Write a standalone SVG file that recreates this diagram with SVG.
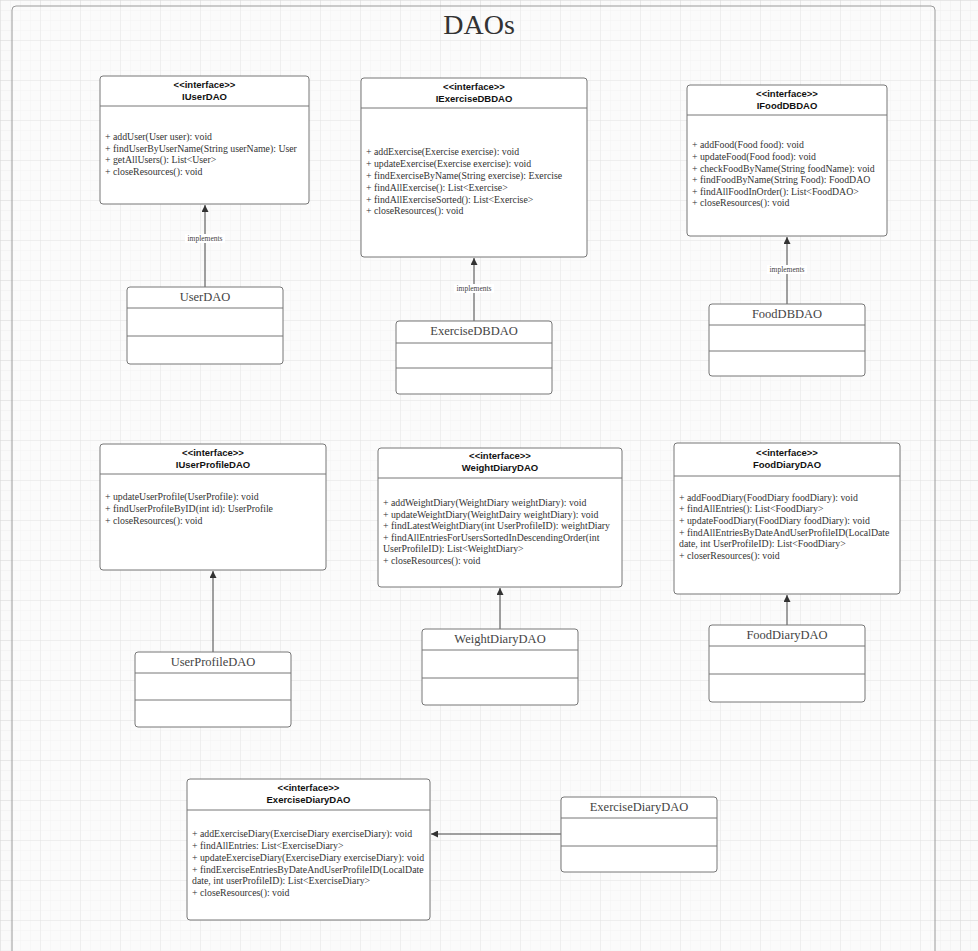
<svg xmlns="http://www.w3.org/2000/svg" width="978" height="951" viewBox="0 0 978 951">
<defs>
<pattern id="gridS" width="10" height="10" patternUnits="userSpaceOnUse">
<path d="M10 0H0V10" fill="none" stroke="#e8e8e8" stroke-width="0.6"/>
</pattern>
<pattern id="gridL" width="40" height="40" patternUnits="userSpaceOnUse">
<rect width="40" height="40" fill="url(#gridS)"/>
<path d="M40 0H0V40" fill="none" stroke="#d6d6d6" stroke-width="0.8"/>
</pattern>
<marker id="arr" viewBox="0 0 10 10" refX="10" refY="5" markerWidth="7" markerHeight="7" orient="auto" markerUnits="userSpaceOnUse">
<path d="M0 0L10 5L0 10Z" fill="#333"/>
</marker>
</defs>
<style>
.box{fill:#fff;stroke:#777;stroke-width:1}
.div{stroke:#777;stroke-width:1}
.st{font-family:"Liberation Sans",Arial,sans-serif;font-weight:bold;font-size:9.5px;fill:#111;text-anchor:middle}
.m{font-family:"Liberation Serif","Times New Roman",serif;font-size:9.8px;fill:#333}
.cn{font-family:"Liberation Serif","Times New Roman",serif;font-size:12.5px;fill:#444;text-anchor:middle}
.lbl{font-family:"Liberation Serif","Times New Roman",serif;font-size:7.5px;fill:#444;text-anchor:middle}
.lblbg{fill:#fff}
.c{stroke:#444;stroke-width:1;fill:none;marker-end:url(#arr)}
</style>
<rect width="978" height="951" fill="#fafafa"/>
<rect width="978" height="951" fill="url(#gridL)"/>
<rect x="12" y="6" width="923" height="960" rx="4" fill="#fff" fill-opacity="0.3" stroke="#9a9a9a" stroke-width="1"/>
<text x="479" y="34" font-family="Liberation Serif,'Times New Roman',serif" font-size="28" fill="#333" text-anchor="middle">DAOs</text>

<g id="connectors">
<line class="c" x1="205" y1="287" x2="205" y2="205"/>
<rect class="lblbg" x="185" y="234" width="40" height="9"/>
<text class="lbl" x="205" y="241">implements</text>
<line class="c" x1="474" y1="321" x2="474" y2="258"/>
<rect class="lblbg" x="454" y="284" width="40" height="9"/>
<text class="lbl" x="474" y="291">implements</text>
<line class="c" x1="787" y1="304" x2="787" y2="237"/>
<rect class="lblbg" x="767" y="265" width="40" height="9"/>
<text class="lbl" x="787" y="272">implements</text>
<line class="c" x1="213" y1="652" x2="213" y2="571"/>
<line class="c" x1="500" y1="629" x2="500" y2="588"/>
<line class="c" x1="787" y1="625" x2="787" y2="595"/>
<line class="c" x1="561" y1="834" x2="431" y2="834"/>
</g>

<g id="IUserDAO">
<rect class="box" x="100" y="76" width="209" height="128" rx="3"/>
<line class="div" x1="100" y1="106" x2="309" y2="106"/>
<text class="st" x="204.5" y="88">&lt;&lt;interface&gt;&gt;</text>
<text class="st" x="204.5" y="100">IUserDAO</text>
<text class="m" x="105" y="140">+ addUser(User user): void</text>
<text class="m" x="105" y="151.5">+ findUserByUserName(String userName): User</text>
<text class="m" x="105" y="163">+ getAllUsers(): List&lt;User&gt;</text>
<text class="m" x="105" y="174.5">+ closeResources(): void</text>
</g>

<g id="IExerciseDBDAO">
<rect class="box" x="361" y="78" width="226" height="179" rx="3"/>
<line class="div" x1="361" y1="108" x2="587" y2="108"/>
<text class="st" x="474" y="90">&lt;&lt;interface&gt;&gt;</text>
<text class="st" x="474" y="102">IExerciseDBDAO</text>
<text class="m" x="366" y="155">+ addExercise(Exercise exercise): void</text>
<text class="m" x="366" y="167">+ updateExercise(Exercise exercise): void</text>
<text class="m" x="366" y="179">+ findExerciseByName(String exercise): Exercise</text>
<text class="m" x="366" y="191">+ findAllExercise(): List&lt;Exercise&gt;</text>
<text class="m" x="366" y="203">+ findAllExerciseSorted(): List&lt;Exercise&gt;</text>
<text class="m" x="366" y="214">+ closeResources(): void</text>
</g>

<g id="IFoodDBDAO">
<rect class="box" x="687" y="85" width="200" height="151" rx="3"/>
<line class="div" x1="687" y1="115" x2="887" y2="115"/>
<text class="st" x="787" y="97">&lt;&lt;interface&gt;&gt;</text>
<text class="st" x="787" y="109">IFoodDBDAO</text>
<text class="m" x="692" y="148">+ addFood(Food food): void</text>
<text class="m" x="692" y="160">+ updateFood(Food food):  void</text>
<text class="m" x="692" y="172">+ checkFoodByName(String foodName): void</text>
<text class="m" x="692" y="183">+ findFoodByName(String Food): FoodDAO</text>
<text class="m" x="692" y="195">+ findAllFoodInOrder(): List&lt;FoodDAO&gt;</text>
<text class="m" x="692" y="206">+ closeResources(): void</text>
</g>

<g id="UserDAO">
<rect class="box" x="127" y="287" width="156" height="77" rx="3"/>
<line class="div" x1="127" y1="308" x2="283" y2="308"/>
<line class="div" x1="127" y1="336" x2="283" y2="336"/>
<text class="cn" x="205" y="301">UserDAO</text>
</g>

<g id="ExerciseDBDAO">
<rect class="box" x="396" y="321" width="156" height="73" rx="3"/>
<line class="div" x1="396" y1="343" x2="552" y2="343"/>
<line class="div" x1="396" y1="368" x2="552" y2="368"/>
<text class="cn" x="474" y="335">ExerciseDBDAO</text>
</g>

<g id="FoodDBDAO">
<rect class="box" x="709" y="304" width="156" height="72" rx="3"/>
<line class="div" x1="709" y1="325" x2="865" y2="325"/>
<line class="div" x1="709" y1="351" x2="865" y2="351"/>
<text class="cn" x="787" y="318">FoodDBDAO</text>
</g>

<g id="IUserProfileDAO">
<rect class="box" x="100" y="444" width="226" height="126" rx="3"/>
<line class="div" x1="100" y1="474" x2="326" y2="474"/>
<text class="st" x="213" y="456">&lt;&lt;interface&gt;&gt;</text>
<text class="st" x="213" y="468">IUserProfileDAO</text>
<text class="m" x="105" y="500">+ updateUserProfile(UserProfile): void</text>
<text class="m" x="105" y="512">+ findUserProfileByID(int id): UserProfile</text>
<text class="m" x="105" y="524">+ closeResources(): void</text>
</g>

<g id="IWeightDiaryDAO">
<rect class="box" x="378" y="448" width="244" height="139" rx="3"/>
<line class="div" x1="378" y1="478" x2="622" y2="478"/>
<text class="st" x="500" y="459">&lt;&lt;interface&gt;&gt;</text>
<text class="st" x="500" y="471">WeightDiaryDAO</text>
<text class="m" x="383" y="506">+  addWeightDiary(WeightDiary weightDiary): void</text>
<text class="m" x="383" y="518">+ updateWeightDiary(WeightDairy weightDiary): void</text>
<text class="m" x="383" y="529">+ findLatestWeightDiary(int UserProfileID): weightDiary</text>
<text class="m" x="383" y="541">+ findAllEntriesForUsersSortedInDescendingOrder(int</text>
<text class="m" x="383" y="552">UserProfileID):  List&lt;WeightDiary&gt;</text>
<text class="m" x="383" y="564">+ closeResources(): void</text>
</g>

<g id="IFoodDiaryDAO">
<rect class="box" x="674" y="443" width="226" height="151" rx="3"/>
<line class="div" x1="674" y1="476" x2="900" y2="476"/>
<text class="st" x="787" y="456">&lt;&lt;interface&gt;&gt;</text>
<text class="st" x="787" y="468">FoodDiaryDAO</text>
<text class="m" x="679" y="501">+  addFoodDiary(FoodDiary foodDiary): void</text>
<text class="m" x="679" y="512">+ findAllEntries(): List&lt;FoodDiary&gt;</text>
<text class="m" x="679" y="524">+ updateFoodDiary(FoodDiary foodDiary): void</text>
<text class="m" x="679" y="536">+ findAllEntriesByDateAndUserProfileID(LocalDate</text>
<text class="m" x="679" y="547">date, int UserProfileID): List&lt;FoodDiary&gt;</text>
<text class="m" x="679" y="559">+ closerResources(): void</text>
</g>

<g id="UserProfileDAO">
<rect class="box" x="135" y="652" width="156" height="75" rx="3"/>
<line class="div" x1="135" y1="673" x2="291" y2="673"/>
<line class="div" x1="135" y1="700" x2="291" y2="700"/>
<text class="cn" x="213" y="666">UserProfileDAO</text>
</g>

<g id="WeightDiaryDAO">
<rect class="box" x="422" y="629" width="156" height="76" rx="3"/>
<line class="div" x1="422" y1="650" x2="578" y2="650"/>
<line class="div" x1="422" y1="678" x2="578" y2="678"/>
<text class="cn" x="500" y="643">WeightDiaryDAO</text>
</g>

<g id="FoodDiaryDAO">
<rect class="box" x="709" y="625" width="156" height="77" rx="3"/>
<line class="div" x1="709" y1="646" x2="865" y2="646"/>
<line class="div" x1="709" y1="674" x2="865" y2="674"/>
<text class="cn" x="787" y="639">FoodDiaryDAO</text>
</g>

<g id="IExerciseDiaryDAO">
<rect class="box" x="187" y="779" width="243" height="141" rx="3"/>
<line class="div" x1="187" y1="810" x2="430" y2="810"/>
<text class="st" x="308.5" y="791">&lt;&lt;interface&gt;&gt;</text>
<text class="st" x="308.5" y="803">ExerciseDiaryDAO</text>
<text class="m" x="192" y="837">+  addExerciseDiary(ExerciseDiary exerciseDiary): void</text>
<text class="m" x="192" y="849">+ findAllEntries: List&lt;ExerciseDiary&gt;</text>
<text class="m" x="192" y="861">+ updateExerciseDiary(ExerciseDiary exerciseDiary): void</text>
<text class="m" x="192" y="873">+ findExerciseEntriesByDateAndUserProfileID(LocalDate</text>
<text class="m" x="192" y="884">date, int userProfileID): List&lt;ExerciseDiary&gt;</text>
<text class="m" x="192" y="896">+ closeResources(): void</text>
</g>

<g id="ExerciseDiaryDAO">
<rect class="box" x="561" y="797" width="156" height="75" rx="3"/>
<line class="div" x1="561" y1="818" x2="717" y2="818"/>
<line class="div" x1="561" y1="846" x2="717" y2="846"/>
<text class="cn" x="639" y="811">ExerciseDiaryDAO</text>
</g>
</svg>
